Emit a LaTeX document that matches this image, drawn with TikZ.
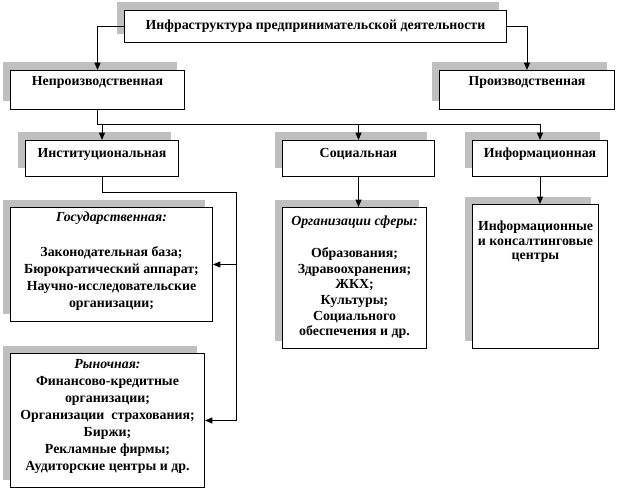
\documentclass[tikz,border=0pt]{standalone}
\usepackage{fontspec}
\setmainfont{Liberation Serif}
\usetikzlibrary{arrows.meta,shadows}

\tikzset{
	box/.style={draw, fill=white, anchor=north west, inner sep=0pt, line width=0.75pt,
		general shadow={fill=black!25, shadow xshift=-6pt, shadow yshift=6pt}},
	txt/.style={anchor=north, align=center, inner sep=0pt, font=\bfseries\fontsize{10.4}{12.75}\selectfont},
	arr/.style={-{Triangle[length=5.5pt, width=4.5pt]}, line width=0.75pt}
}

\begin{document}
\begin{tikzpicture}[x=0.75pt, y=-0.75pt]
			\useasboundingbox (0, 0) rectangle (628, 499);
			\node[box, minimum width=286.5pt, minimum height=24pt, label={[txt, yshift=-7.5pt]north:{Инфраструктура предпринимательской деятельности}}] (infra)at(124, 10) {};
			\node[box, minimum width=130.5pt, minimum height=29.25pt, label={[txt, yshift=-4.5pt]north:{Непроизводственная}}] (np)at(10, 70) {};
			\node[box, minimum width=131.25pt, minimum height=29.25pt, label={[txt, yshift=-4.5pt]north:{Производственная}}] (prod)at(439, 70) {};
			\node[box, minimum width=114.75pt, minimum height=27pt, label={[txt, yshift=-6pt]north:{Институциональная}}] (inst)at(25, 140) {};
			\node[box, minimum width=114pt, minimum height=27pt, label={[txt, yshift=-6pt]north:{Социальная}}] (soc)at(282, 140) {};
			\node[box, minimum width=101.25pt, minimum height=27pt, label={[txt, yshift=-6pt]north:{Информационная}}] (info)at(472, 140) {};
			\node[box, minimum width=151.5pt, minimum height=85.5pt, label={[txt, yshift=-3.75pt]north:{\textit{Государственная:}\\[13pt]Законодательная база;\\Бюрократический аппарат;\\Научно-исследовательские\\организации;}}] (gov)at(10, 207) {};
			\node[box, minimum width=145.5pt, minimum height=100.5pt, label={[txt, yshift=-4.5pt]north:{\textit{Рыночная:}\\Финансово-кредитные\\организации;\\Организации\ \ страхования;\\Биржи;\\Рекламные фирмы;\\Аудиторские центры и др.}}] (mkt)at(10, 353) {};
			\node[box, minimum width=108pt, minimum height=105.75pt, label={[txt, yshift=-6.75pt]north:{\textit{Организации сферы:}\\[11pt]Образования;\\[-1pt]Здравоохранения;\\[-1pt]ЖКХ;\\[-1pt]Культуры;\\[-1pt]Социального\\[-1pt]обеспечения и др.}}] (org)at(282, 207) {};
			\node[box, minimum width=94.5pt, minimum height=108pt, label={[txt, yshift=-12.75pt]north:{Информационные\\[-2pt]и консалтинговые\\[-2pt]центры}}] (infc)at(472, 204) {};
			% связи
			\draw[arr] (infra.west) -| (np.north);
			\draw[arr] (infra.east) -| (prod.north);
			\draw[line width=0.75pt] (np.south) -- ++(0, 15) coordinate (bus);
			\draw[arr] (bus) -| (inst.north);
			\draw[arr] (bus) -| (soc.north);
			\draw[arr] (bus) -| (info.north);
			\coordinate (rail) at (236, 193);
			\draw[arr] (inst.south) |- (rail) |- (mkt.east);
			\draw[arr] (rail |- gov.east) -- (gov.east);
			\draw[arr] (soc.south) -- (soc.south |- org.north);
			\draw[arr] (info.south) -- (info.south |- infc.north);
		\end{tikzpicture}
\end{document}
